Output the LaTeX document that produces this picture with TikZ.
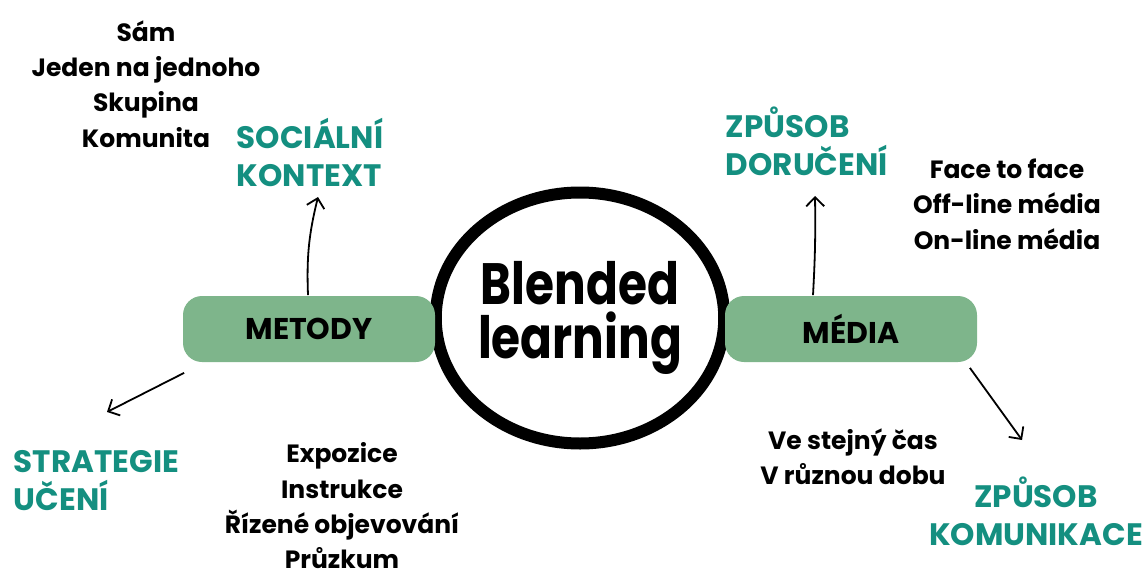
\documentclass[tikz,border=0pt]{standalone}
\usepackage{fontspec}
\setmainfont{Poppins}
\usepackage{graphicx}
\usepackage{tikz}
\usetikzlibrary{arrows.meta,positioning,shapes.geometric}

\definecolor{boxgreen}{RGB}{126,181,139}
\definecolor{headteal}{RGB}{20,143,128}

\tikzset{
  topic/.style={draw=none, fill=boxgreen, rounded corners=19pt, minimum width=252pt,
    minimum height=66pt, font=\fontsize{30}{32}\selectfont\bfseries},
  heading/.style={text=headteal, inner sep=0pt, font=\fontsize{31}{38}\selectfont\bfseries},
  items/.style={align=center, inner sep=0pt, font=\fontsize{25}{35.3}\selectfont\bfseries},
}

\begin{document}
\begin{tikzpicture}[x=1pt, y=-1pt, >={Straight Barb[length=9pt,width=18pt]}, line width=1.8pt]
    \useasboundingbox (0,0) rectangle (1148,578);

    % Centre
    \node [draw, ellipse, line width=12pt, minimum width=274pt, minimum height=251pt, inner sep=0pt,
           font=\fontsize{47}{37.5}\selectfont\bfseries] (blended) at (580,318)
           {\raisebox{-8pt}{\scalebox{1}[1.24]{\begin{tabular}{@{}c@{}}Blended\\[-5pt]learning\end{tabular}}}};

    % Topics
    \node [topic] (metody) at (309,329) {METODY};
    \node [topic] (media)  at (851,329) {MÉDIA};

    % Headings
    \node [heading, anchor=west, align=left]   (socialni)   at (236,152) {SOCIÁLNÍ\\KONTEXT};
    \node [heading, anchor=west, align=left]   (strategie)  at (13,481)  {STRATEGIE\\UČENÍ};
    \node [heading, anchor=west, align=left]   (doruceni)   at (725,141) {ZPŮSOB\\DORUČENÍ};
    \node [heading, align=center]              (komunikace) at (1036,511) {ZPŮSOB\\KOMUNIKACE};

    % Lists
    \node [items] (socitems)   at (146,84)  {Sám\\Jeden na jednoho\\Skupina\\Komunita};
    \node [items] (metitems)   at (342,506) {Expozice\\Instrukce\\Řízené objevování\\Průzkum};
    \node [items] (doritems)   at (1007,204) {Face to face\\Off-line média\\On-line média};
    \node [items] (komitems)   at (853,457) {Ve stejný čas\\V různou dobu};

    % Arrow ends
    \coordinate (tosoc)  at (318,197);
    \coordinate (tostr)  at (107,412);
    \coordinate (todor)  at (815,196);
    \coordinate (tokom)  at (1022,440);

    % Paths
    \path [->] ([xshift=-1pt]metody.north)   edge [bend left=8]  (tosoc);
    \path [->] ([xshift=2pt,yshift=-10pt]metody.south west) edge (tostr);
    \path [->] ([xshift=-38pt]media.north)   edge [bend right=2] (todor);
    \path [->] ([xshift=-8pt,yshift=-5pt]media.south east)   edge (tokom);
\end{tikzpicture}
\end{document}
